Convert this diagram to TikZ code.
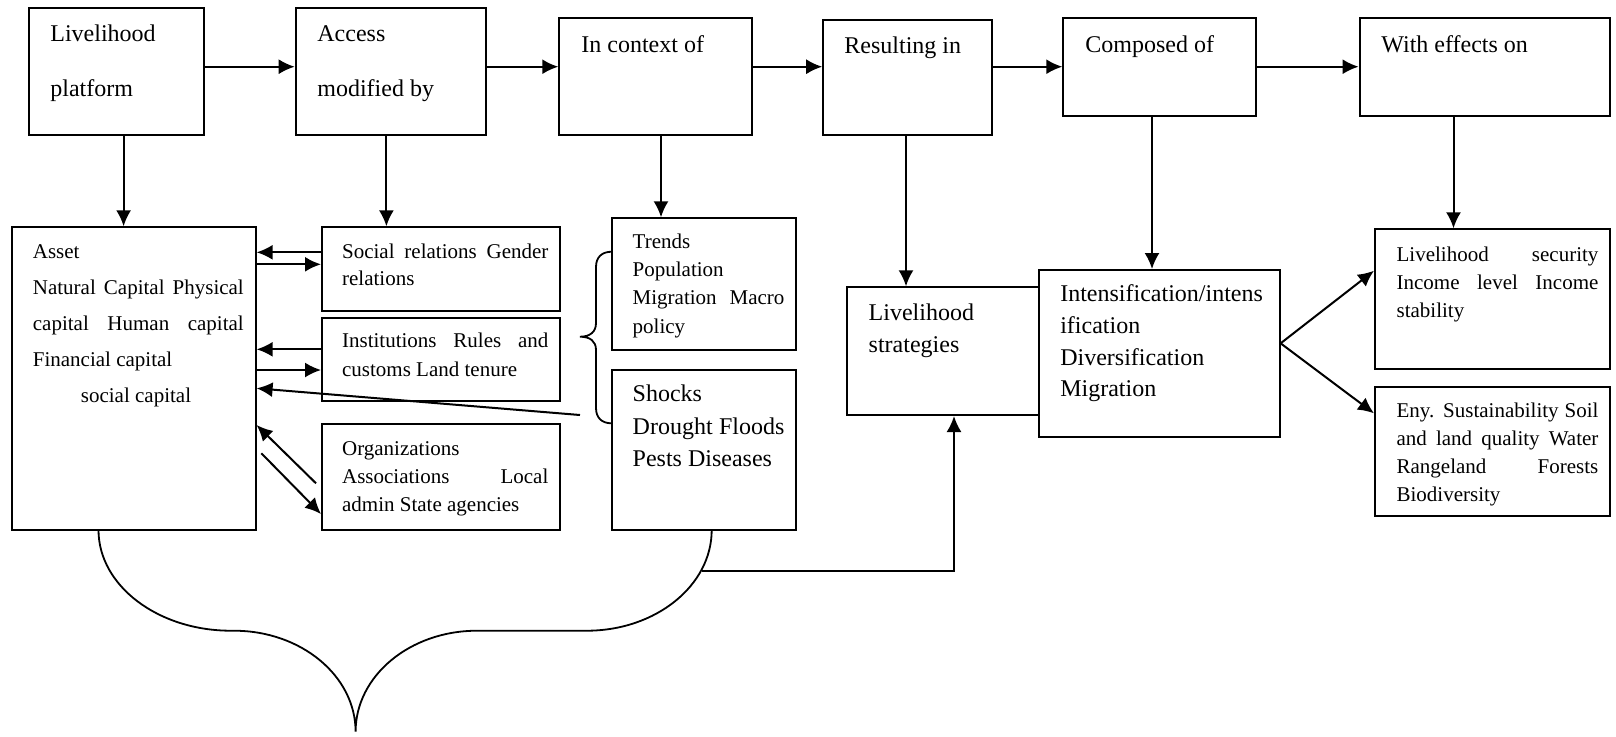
\documentclass[tikz,border=0pt]{standalone}
\usepackage{fontspec}
\setmainfont{Liberation Serif}
\usetikzlibrary{arrows.meta,fit,calc}
\newcommand{\tb}[4]{\parbox[t]{#1}{\fontsize{#2}{#3}\selectfont #4}}
\newcommand{\jl}[1]{\makebox[\linewidth][s]{#1}}
\begin{document}
\begin{tikzpicture}[x=0.5pt,y=-0.5pt,
 box/.style={draw,line width=1pt,inner sep=0pt},
 txt/.style={inner sep=0pt,anchor=base west},
 arr/.style={line width=1pt,-{Latex[length=8pt,width=7.5pt]}},
 ln/.style={line width=0.9pt}]
\useasboundingbox (0,0) rectangle (1616,736);
% boxes
\node[box,fit={(29,8) (203.6,134.7)}] (lp) {};
\node[box,fit={(295.7,8) (485.7,134.7)}] (acc) {};
\node[box,fit={(559.3,18.3) (751.8,134.7)}] (ctx) {};
\node[box,fit={(823.2,20) (991.8,134.7)}] (res) {};
\node[box,fit={(1063.3,18.3) (1256,116)}] (comp) {};
\node[box,fit={(1359.6,18.3) (1610.4,116)}] (eff) {};
\node[box,fit={(11.5,227.3) (255.6,530)}] (asset) {};
\node[box,fit={(322,227.3) (559.5,311)}] (soc) {};
\node[box,fit={(322,318.3) (559.5,401)}] (inst) {};
\node[box,fit={(322,424.3) (559.5,530)}] (org) {};
\node[box,fit={(611.7,218.3) (796,350)}] (trend) {};
\node[box,fit={(611.7,370) (796,530)}] (shock) {};
\node[box,fit={(847.3,287.3) (1039.3,415)}] (strat) {};
\node[box,fit={(1039.3,270) (1279.6,437.3)}] (intens) {};
\node[box,fit={(1375,229.3) (1610,369.3)}] (sec) {};
\node[box,fit={(1375,387.3) (1610,516)}] (eny) {};
% texts
\node[txt] (tlp) at (50,41) {\tb{80pt}{12}{27.5}{Livelihood\\platform}};
\node[txt] (tacc) at (317,41) {\tb{80pt}{12}{27.5}{Access\\modified by}};
\node[txt] (tctx) at (581,52) {\tb{80pt}{12}{27.5}{In context of}};
\node[txt] (tres) at (844,53) {\tb{80pt}{12}{27.5}{Resulting in}};
\node[txt] (tcomp) at (1085,52) {\tb{80pt}{12}{27.5}{Composed of}};
\node[txt] (teff) at (1381,52) {\tb{100pt}{12}{27.5}{With effects on}};
\node[txt] (tasset) at (32.5,258) {\tb{105.45pt}{10.5}{18.1}{Asset\\\jl{Natural Capital Physical}\\\jl{capital Human capital}\\Financial capital\\\hspace*{24pt}social capital}};
\node[txt] (tsoc) at (341.7,258) {\tb{103.15pt}{10.5}{13.5}{\jl{Social relations Gender}\\relations}};
\node[txt] (tinst) at (341.7,347.7) {\tb{103.15pt}{10.5}{14.5}{\jl{Institutions Rules and}\\customs Land tenure}};
\node[txt] (torg) at (341.7,455) {\tb{103.15pt}{10.5}{14.15}{Organizations\\\jl{Associations Local}\\admin State agencies}};
\node[txt] (ttrend) at (632.3,248.3) {\tb{75.85pt}{10.5}{14.15}{Trends\\Population\\\jl{Migration Macro}\\policy}};
\node[txt] (tshock) at (632.3,401.7) {\tb{75.85pt}{12}{16.25}{Shocks\\\jl{Drought Floods}\\Pests Diseases}};
\node[txt] (tstrat) at (868.3,320.5) {\tb{80pt}{12}{16.2}{Livelihood\\strategies}};
\node[txt] (tintens) at (1059.9,301.7) {\tb{110pt}{12}{15.85}{Intensification/intens\\ification\\Diversification\\Migration}};
\node[txt] (tsec) at (1396.2,261.7) {\tb{100.9pt}{10.5}{13.9}{\jl{Livelihood security}\\\jl{Income level Income}\\stability}};
\node[txt] (teny) at (1396.2,417.3) {\tb{100.9pt}{10.5}{14.05}{\jl{Eny. Sustainability Soil}\\\jl{and land quality Water}\\\jl{Rangeland Forests}\\Biodiversity}};
% helper coordinates
\coordinate (ya) at (0,66.7);
\coordinate (xlp) at (123.6,0);
\coordinate (xacc) at (386.4,0);
\coordinate (xctx) at (661,0);
\coordinate (xres) at (906,0);
\coordinate (xcomp) at (1152,0);
\coordinate (xeff) at (1453.5,0);
\coordinate (xup) at (954,0);
\coordinate (y1) at (0,252.3);
\coordinate (y2) at (0,264.3);
\coordinate (y3) at (0,349.3);
\coordinate (y4) at (0,370);
\coordinate (o1) at (316,483.3);
\coordinate (o1t) at (0,425);
\coordinate (o2) at (261.4,453.3);
\coordinate (o2t) at (0,514);
\coordinate (bd) at (580,415);
\coordinate (bdt) at (0,388.3);
\coordinate (ie) at (0,343.3);
\coordinate (ys) at (0,270.7);
\coordinate (ye) at (0,413.3);
\coordinate (bb) at (701.5,570.7);
% top row arrows
\draw[arr] (lp.east |- ya) -- (acc.west |- ya);
\draw[arr] (acc.east |- ya) -- (ctx.west |- ya);
\draw[arr] (ctx.east |- ya) -- (res.west |- ya);
\draw[arr] (res.east |- ya) -- (comp.west |- ya);
\draw[arr] (comp.east |- ya) -- (eff.west |- ya);
% down arrows
\draw[arr] (lp.south -| xlp) -- (asset.north -| xlp);
\draw[arr] (acc.south -| xacc) -- (soc.north -| xacc);
\draw[arr] (ctx.south -| xctx) -- (trend.north -| xctx);
\draw[arr] (res.south -| xres) -- (strat.north -| xres);
\draw[arr] (comp.south -| xcomp) -- (intens.north -| xcomp);
\draw[arr] (eff.south -| xeff) -- (sec.north -| xeff);
% asset side arrows
\draw[arr] (soc.west |- y1) -- (asset.east |- y1);
\draw[arr] (asset.east |- y2) -- (soc.west |- y2);
\draw[arr] (inst.west |- y3) -- (asset.east |- y3);
\draw[arr] (asset.east |- y4) -- (inst.west |- y4);
\draw[arr] (o1) -- (asset.east |- o1t);
\draw[arr] (o2) -- (org.west |- o2t);
\draw[arr] (bd) -- (asset.east |- bdt);
% effects
\draw[arr] (intens.east |- ie) -- (sec.west |- ys);
\draw[arr] (intens.east |- ie) -- (eny.west |- ye);
% bottom connector
\draw[arr] (bb) -- (bb -| xup) -- (strat.south -| xup);
% small brace
\draw[ln] (611.7,251.7) .. controls (602,251.7) and (596,257) .. (596,267) -- (596,323) .. controls (596,332) and (590,336.7) .. (580,336.7) .. controls (590,336.7) and (596,341) .. (596,350) -- (596,408) .. controls (596,418) and (602,423.3) .. (611.7,423.3);
% big brace
\draw[ln] (98.5,530) .. controls (98.5,585.6) and (157.9,630.7) .. (231,630.7) -- (234,630.7) .. controls (301.1,630.7) and (355.6,675.9) .. (355.6,731.7) .. controls (355.6,675.9) and (409.9,630.7) .. (477,630.7) -- (586.7,630.7) .. controls (655.7,630.7) and (711.7,585.6) .. (711.7,530);
\end{tikzpicture}
\end{document}
